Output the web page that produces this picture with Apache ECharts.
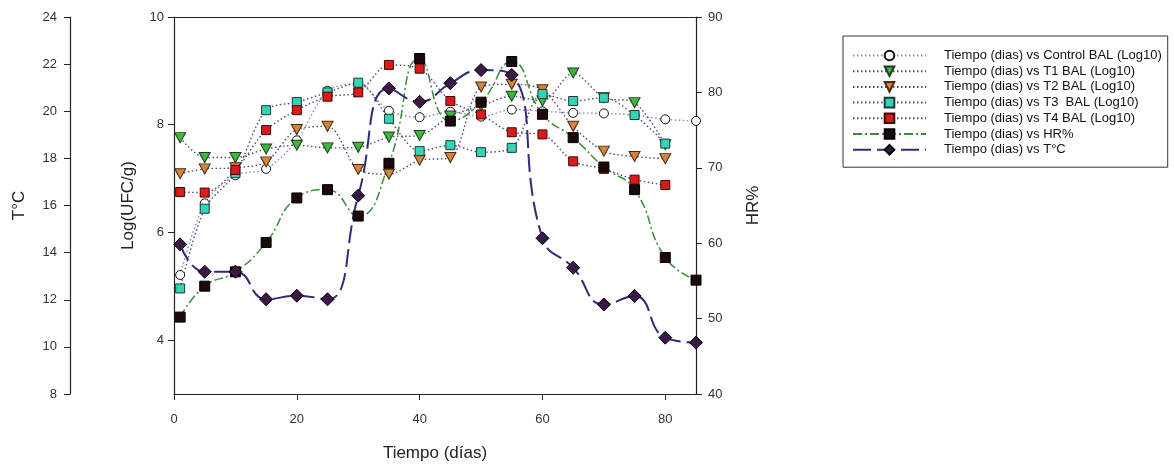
<!DOCTYPE html>
<html>
<head>
<meta charset="utf-8">
<script src="https://cdn.jsdelivr.net/npm/echarts@6/dist/echarts.min.js"></script>
<style>
html, body { margin: 0; padding: 0; background: #fff; }
#chart { width: 1174px; height: 464px; }
</style>
</head>
<body>
<div id="chart"></div>
<script>
// Sampling days
const days = [1, 5, 10, 15, 20, 25, 30, 35, 40, 45, 50, 55, 60, 65, 70, 75, 80, 85];

// BAL counts, Log10(UFC/g)
const controlBAL = [5.21, 6.54, 7.06, 7.18, 7.71, 8.63, 8.75, 8.26, 8.14, 8.24, 8.15, 8.28, 8.25, 8.22, 8.21, 8.18, 8.10, 8.07];
const t1BAL = [7.76, 7.39, 7.39, 7.55, 7.62, 7.57, 7.58, 7.77, 7.80, 8.16, 8.35, 8.53, 8.44, 8.96, 8.50, 8.41, 7.63];
const t2BAL = [7.09, 7.18, 7.20, 7.31, 7.91, 7.97, 7.17, 7.08, 7.34, 7.39, 8.70, 8.75, 8.65, 7.97, 7.51, 7.41, 7.37];
const t3BAL = [4.96, 6.44, 7.10, 8.27, 8.42, 8.60, 8.78, 8.11, 7.51, 7.62, 7.49, 7.57, 8.57, 8.44, 8.50, 8.18, 7.65];
const t4BAL = [6.75, 6.74, 7.16, 7.90, 8.27, 8.52, 8.60, 9.11, 9.04, 8.44, 8.19, 7.86, 7.82, 7.32, 7.18, 6.98, 6.88];

// Relative humidity (%) and temperature (°C)
const humedad = [50.2, 54.3, 56.2, 60.1, 66.0, 67.1, 63.6, 70.6, 84.5, 76.2, 78.7, 84.1, 77.1, 74.0, 70.1, 67.1, 58.1, 55.1];
const temperatura = [14.35, 13.19, 13.19, 12.02, 12.17, 12.02, 16.42, 20.97, 20.40, 21.19, 21.75, 21.54, 14.61, 13.36, 11.80, 12.16, 10.39, 10.18];

// Axis ticks
const xTicks = [0, 20, 40, 60, 80];
const logTicks = [4, 6, 8, 10];

const seriesNames = [
  'Tiempo (dias) vs Control BAL (Log10)',
  'Tiempo (dias) vs T1 BAL (Log10)',
  'Tiempo (dias) vs T2 BAL (Log10)',
  'Tiempo (dias) vs T3  BAL (Log10)',
  'Tiempo (dias) vs T4 BAL (Log10)',
  'Tiempo (dias) vs HR%',
  'Tiempo (dias) vs T°C'
];

const pairs = vals => vals.map((v, i) => [days[i], v]);

const FONT = "'Liberation Sans', Arial, sans-serif";
const AXIS_COLOR = '#222';
const downTriangle = 'path://M0,0 L10,0 L5,9 Z';
const dotted = { type: [1.5, 2.5], width: 1.4, color: '#4a4a86' };
const labelStyle = { color: '#333', fontSize: 13, fontFamily: FONT };

const baseAxis = {
  axisLine: { show: true, onZero: false, lineStyle: { color: AXIS_COLOR, width: 1.2 } },
  axisTick: { show: true, length: 6, lineStyle: { color: AXIS_COLOR, width: 1 } },
  axisLabel: labelStyle,
  splitLine: { show: false },
  nameTextStyle: { color: '#222', fontSize: 17, fontFamily: FONT },
  nameLocation: 'middle'
};

function bal(nameIdx, values, symbol, size, fill, border, lineColor) {
  return {
    name: seriesNames[nameIdx],
    type: 'line',
    yAxisIndex: 0,
    data: pairs(values),
    smooth: 0.3,
    symbol: symbol,
    symbolSize: size,
    showSymbol: true,
    lineStyle: Object.assign({}, dotted, lineColor ? { color: lineColor } : {}),
    itemStyle: { color: fill, borderColor: border, borderWidth: 1 }
  };
}

const chart = echarts.init(document.getElementById('chart'), null, { renderer: 'canvas' });

chart.setOption({
  animation: false,
  backgroundColor: '#fff',
  textStyle: { fontFamily: FONT },
  grid: { left: 174, right: 478, top: 17, bottom: 70, containLabel: false, outerBoundsMode: 'none' },
  legend: {
    orient: 'vertical',
    left: 843,
    top: 36,
    padding: [12, 6, 10, 9],
    itemWidth: 73,
    itemHeight: 12,
    itemGap: 0.7,
    borderColor: '#333',
    borderWidth: 1,
    data: seriesNames,
    textStyle: { fontSize: 13, lineHeight: 15, color: '#111', fontFamily: FONT, padding: [0, 0, 0, 13] }
  },
  xAxis: [
    Object.assign({}, baseAxis, {
      type: 'value',
      min: 0,
      max: 85,
      position: 'bottom',
      name: 'Tiempo (días)',
      nameGap: 51,
      axisTick: { show: true, length: 6, customValues: xTicks, lineStyle: { color: AXIS_COLOR } },
      axisLabel: Object.assign({}, labelStyle, { margin: 19, customValues: xTicks })
    }),
    {
      type: 'value',
      min: 0,
      max: 85,
      position: 'top',
      axisLine: { show: true, onZero: false, lineStyle: { color: AXIS_COLOR, width: 1.2 } },
      axisTick: { show: false },
      axisLabel: { show: false },
      splitLine: { show: false }
    }
  ],
  yAxis: [
    Object.assign({}, baseAxis, {
      type: 'value',
      min: 3,
      max: 10,
      position: 'left',
      name: 'Log(UFC/g)',
      nameGap: 37,
      axisTick: { show: true, length: 6, customValues: logTicks, lineStyle: { color: AXIS_COLOR } },
      axisLabel: Object.assign({}, labelStyle, { margin: 10, customValues: logTicks })
    }),
    Object.assign({}, baseAxis, {
      type: 'value',
      min: 8,
      max: 24,
      interval: 2,
      position: 'left',
      offset: 104,
      name: 'T°C',
      nameGap: 42,
      axisLabel: Object.assign({}, labelStyle, { margin: 13 })
    }),
    Object.assign({}, baseAxis, {
      type: 'value',
      min: 40,
      max: 90,
      interval: 10,
      position: 'right',
      name: 'HR%',
      nameGap: 49,
      axisLabel: Object.assign({}, labelStyle, { margin: 12 })
    })
  ],
  series: [
    bal(0, controlBAL, 'circle', 9, '#ffffff', '#111', '#8a8aa6'),
    bal(1, t1BAL, downTriangle, [11, 10], '#3cb83c', '#1d3d1d'),
    bal(2, t2BAL, downTriangle, [11, 10], '#d4843c', '#4a2a10'),
    bal(3, t3BAL, 'rect', 9, '#36d4b4', '#1a3a34'),
    bal(4, t4BAL, 'rect', 9, '#dd1a1a', '#3a0a0a'),
    {
      name: seriesNames[5],
      type: 'line',
      yAxisIndex: 2,
      data: pairs(humedad),
      smooth: 0.5,
      symbol: 'rect',
      symbolSize: 10,
      lineStyle: { color: '#3a8c3a', width: 1.5, type: [9, 3, 2, 3] },
      itemStyle: { color: '#1c0a0a', borderColor: '#000', borderWidth: 1 }
    },
    {
      name: seriesNames[6],
      type: 'line',
      yAxisIndex: 1,
      data: pairs(temperatura),
      smooth: 0.5,
      symbol: 'diamond',
      symbolSize: 13,
      lineStyle: { color: '#2c2c78', width: 2, type: [18, 6] },
      itemStyle: { color: '#3c1846', borderColor: '#000', borderWidth: 1 }
    }
  ]
});
</script>
</body>
</html>
